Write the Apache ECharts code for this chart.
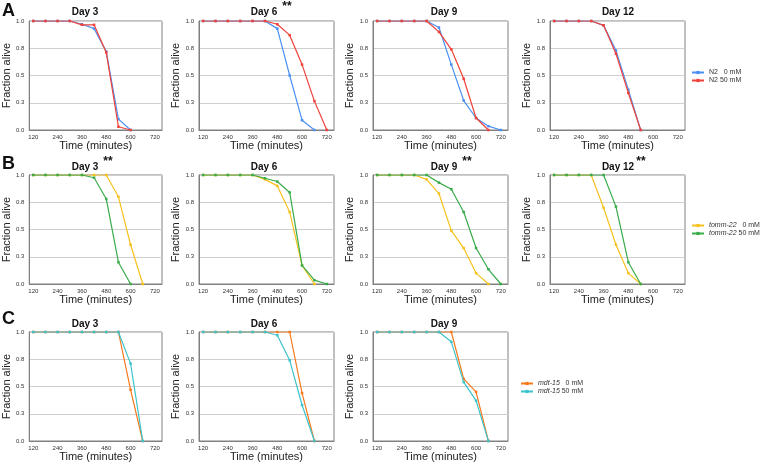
<!DOCTYPE html>
<html>
<head>
<meta charset="utf-8">
<script src="https://cdn.jsdelivr.net/npm/echarts@6/dist/echarts.min.js"></script>
<style>
  html, body { margin: 0; padding: 0; background: #fff; }
  #main { width: 763px; height: 465px; }
</style>
</head>
<body>
<div id="main"></div>
<script>
// time points (minutes)
const times = [120, 180, 240, 300, 360, 420, 480, 540, 600, 660, 720]
const xTickLabels = [120, 240, 360, 480, 600, 720]
const yTickLabels = [0, 0.25, 0.5, 0.75, 1]

// row A: N2
const n2Day3_0 = [1, 1, 1, 1, 0.97, 0.93, 0.72, 0.10, 0]
const n2Day3_50 = [1, 1, 1, 1, 0.965, 0.965, 0.71, 0.03, 0]
const n2Day6_0 = [1, 1, 1, 1, 1, 1, 0.93, 0.5, 0.09, 0]
const n2Day6_50 = [1, 1, 1, 1, 1, 1, 0.97, 0.87, 0.6, 0.265, 0]
const n2Day9_0 = [1, 1, 1, 1, 1, 0.94, 0.6, 0.27, 0.11, 0.035, 0]
const n2Day9_50 = [1, 1, 1, 1, 1, 0.9, 0.74, 0.47, 0.11, 0]
const n2Day12_0 = [1, 1, 1, 1, 0.96, 0.73, 0.37, 0]
const n2Day12_50 = [1, 1, 1, 1, 0.96, 0.7, 0.34, 0]

// row B: tomm-22
const tommDay3_0 = [1, 1, 1, 1, 1, 1, 1, 0.8, 0.36, 0]
const tommDay3_50 = [1, 1, 1, 1, 1, 0.975, 0.78, 0.2, 0]
const tommDay6_0 = [1, 1, 1, 1, 1, 0.96, 0.9, 0.66, 0.17, 0]
const tommDay6_50 = [1, 1, 1, 1, 1, 0.97, 0.94, 0.84, 0.17, 0.035, 0]
const tommDay9_0 = [1, 1, 1, 1, 0.96, 0.83, 0.49, 0.33, 0.1, 0]
const tommDay9_50 = [1, 1, 1, 1, 1, 0.93, 0.87, 0.66, 0.33, 0.135, 0]
const tommDay12_0 = [1, 1, 1, 1, 0.7, 0.36, 0.1, 0]
const tommDay12_50 = [1, 1, 1, 1, 1, 0.71, 0.2, 0]

// row C: mdt-15
const mdtDay3_0 = [1, 1, 1, 1, 1, 1, 1, 1, 0.47, 0]
const mdtDay3_50 = [1, 1, 1, 1, 1, 1, 1, 1, 0.71, 0]
const mdtDay6_0 = [1, 1, 1, 1, 1, 1, 1, 1, 0.44, 0]
const mdtDay6_50 = [1, 1, 1, 1, 1, 1, 0.97, 0.74, 0.33, 0]
const mdtDay9_0 = [1, 1, 1, 1, 1, 1, 1, 0.57, 0.45, 0]
const mdtDay9_50 = [1, 1, 1, 1, 1, 1, 0.91, 0.54, 0.37, 0]

const seriesNames = [
  ['N2 0 mM', 'N2 50 mM'],
  ['tomm-22 0 mM', 'tomm-22 50 mM'],
  ['mdt-15 0 mM', 'mdt-15 50 mM']
]
const seriesColors = [
  ['#4a90f2', '#f0413a'],
  ['#f7c11e', '#3aab4a'],
  ['#f7791c', '#3cc3cb']
]

const panels = [
  {row: 0, col: 0, title: 'Day 3', stars: false, a: n2Day3_0, b: n2Day3_50},
  {row: 0, col: 1, title: 'Day 6', stars: true, a: n2Day6_0, b: n2Day6_50},
  {row: 0, col: 2, title: 'Day 9', stars: false, a: n2Day9_0, b: n2Day9_50},
  {row: 0, col: 3, title: 'Day 12', stars: false, a: n2Day12_0, b: n2Day12_50},
  {row: 1, col: 0, title: 'Day 3', stars: true, a: tommDay3_0, b: tommDay3_50},
  {row: 1, col: 1, title: 'Day 6', stars: false, a: tommDay6_0, b: tommDay6_50},
  {row: 1, col: 2, title: 'Day 9', stars: true, a: tommDay9_0, b: tommDay9_50},
  {row: 1, col: 3, title: 'Day 12', stars: true, a: tommDay12_0, b: tommDay12_50},
  {row: 2, col: 0, title: 'Day 3', stars: false, a: mdtDay3_0, b: mdtDay3_50},
  {row: 2, col: 1, title: 'Day 6', stars: false, a: mdtDay6_0, b: mdtDay6_50},
  {row: 2, col: 2, title: 'Day 9', stars: false, a: mdtDay9_0, b: mdtDay9_50}
]

const colLeft = [27, 199, 373, 550]
const rowTop = [21, 175, 332]
const plotW = 135
const plotH = 109
const titleX = [85, 264, 444, 618]
const titleY = [12, 167, 324]
const font = '"Liberation Sans", Arial, Helvetica, sans-serif'

const chart = echarts.init(document.getElementById('main'))

const grid = []
const xAxis = []
const yAxis = []
const series = []
const graphic = []

panels.forEach((p, i) => {
  grid.push({
    left: colLeft[p.col], top: rowTop[p.row], width: plotW, height: plotH,
    show: true, borderColor: '#808080', borderWidth: 1, backgroundColor: '#fff'
  })
  xAxis.push({
    type: 'value', gridIndex: i, min: 100, max: 755,
    name: 'Time (minutes)', nameLocation: 'middle', nameGap: 10,
    nameTextStyle: {fontSize: 11, color: '#222', fontFamily: font},
    axisLine: {show: true, lineStyle: {color: '#808080'}},
    axisTick: {show: false},
    splitLine: {show: false},
    axisLabel: {customValues: xTickLabels, fontSize: 6, color: '#333', margin: 4, fontFamily: font}
  })
  yAxis.push({
    type: 'value', gridIndex: i, min: 0, max: 1, interval: 0.25,
    name: 'Fraction alive', nameLocation: 'middle', nameGap: 14,
    nameTextStyle: {fontSize: 11, color: '#222', fontFamily: font},
    axisLine: {show: true, lineStyle: {color: '#808080'}},
    axisTick: {show: false},
    splitLine: {show: true, lineStyle: {color: '#cfcfcf', width: 1}},
    axisLabel: {fontSize: 6, color: '#333', margin: 5, fontFamily: font,
      formatter: v => v.toFixed(1)}
  })
  ;[p.a, p.b].forEach((vals, k) => {
    series.push({
      name: seriesNames[p.row][k],
      type: 'line', xAxisIndex: i, yAxisIndex: i,
      data: vals.map((v, j) => [times[j], v]),
      symbol: 'rect', symbolSize: 2.5, showSymbol: true,
      itemStyle: {color: seriesColors[p.row][k]},
      lineStyle: {width: 1.2, color: seriesColors[p.row][k]},
      z: 2 + k
    })
  })
  graphic.push({
    type: 'text', x: titleX[p.col], y: titleY[p.row],
    style: {text: p.title, font: 'bold 10px ' + font, fill: '#111',
      textAlign: 'center', textVerticalAlign: 'middle', align: 'center', verticalAlign: 'middle'}
  })
  if (p.stars) {
    graphic.push({
      type: 'text', x: titleX[p.col] + 23, y: titleY[p.row] - 5,
      style: {text: '**', font: 'bold 12px ' + font, fill: '#111',
        textAlign: 'center', textVerticalAlign: 'middle', align: 'center', verticalAlign: 'middle'}
    })
  }
})

// panel letters
;['A', 'B', 'C'].forEach((t, r) => {
  graphic.push({
    type: 'text', x: 2, y: [11, 164, 319][r],
    style: {text: t, font: 'bold 18px ' + font, fill: '#111',
      textAlign: 'left', textVerticalAlign: 'middle', align: 'left', verticalAlign: 'middle'}
  })
})

const legendPos = [[691, 69], [691, 222], [520, 380]]
const legend = seriesNames.map((names, r) => ({
  data: names,
  orient: 'vertical',
  left: legendPos[r][0], top: legendPos[r][1],
  padding: 0,
  itemWidth: 12, itemHeight: 4, itemGap: 1,
  selectedMode: false,
  textStyle: {
    fontSize: 7, color: '#333', fontFamily: font,
    rich: {i: {fontStyle: 'italic', fontSize: 7, color: '#333', fontFamily: font}}
  },
  formatter: name => {
    const parts = name.split(' ')
    const gene = parts[0]
    const dose = parts[1]
    const g = r === 0 ? gene : '{i|' + gene + '}'
    return dose === '0' ? g + '   0 mM' : g + ' 50 mM'
  }
}))

chart.setOption({
  animation: false,
  backgroundColor: '#fff',
  grid: grid,
  xAxis: xAxis,
  yAxis: yAxis,
  legend: legend,
  graphic: graphic,
  series: series
})
</script>
</body>
</html>
